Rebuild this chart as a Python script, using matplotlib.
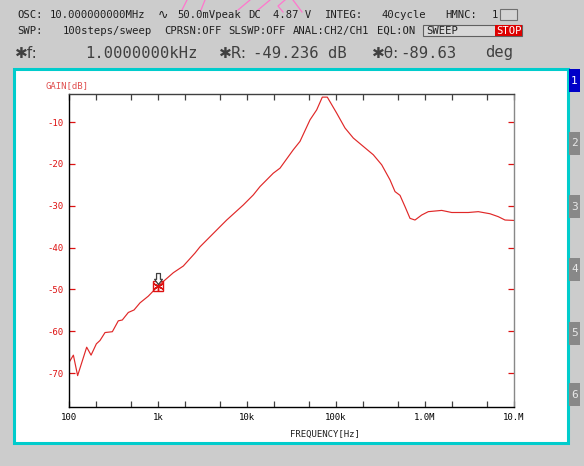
import numpy as np
import matplotlib
matplotlib.use("Agg")
import matplotlib.pyplot as plt
from matplotlib.patches import Rectangle
from matplotlib.path import Path
from matplotlib.lines import Line2D

# measured gain curve (frequency in Hz, gain in dB)
freq_hz = [101, 112, 125, 158, 177, 203, 223, 254, 307, 358, 397, 464, 538, 628, 778,
           1000, 1486, 1924, 2604, 2965, 4973, 5914, 9088, 11770, 14000, 19750, 23490,
           33130, 39400, 51050, 60700, 70150, 79860, 101800, 126200, 156500, 202600,
           262500, 326200, 404400, 460300, 523800, 596300, 678600, 772000, 918300,
           1089000, 1540000, 1995000, 3066000, 3971000, 5375000, 6662000, 7924000, 10000000]
gain_db = [-67.3, -65.7, -70.6, -63.8, -65.7, -63.0, -62.2, -60.3, -60.1, -57.5, -57.3,
           -55.5, -54.9, -53.2, -51.6, -49.2, -46.0, -44.4, -41.3, -39.8, -35.0, -33.4,
           -29.8, -27.4, -25.4, -22.2, -21.0, -16.6, -14.6, -9.45, -7.06, -4.02, -4.02,
           -7.85, -11.4, -13.8, -15.8, -17.8, -20.2, -23.8, -26.6, -27.5, -30.2, -33.0,
           -33.4, -32.2, -31.4, -31.1, -31.6, -31.6, -31.4, -31.9, -32.6, -33.4, -33.5]

marker_f = 1000
marker_db = -49.236

x_major = [100, 1e3, 1e4, 1e5, 1e6, 1e7]
x_labels = ["100", "1k", "10k", "100k", "1.0M", "10.M"]
x_minor = [m * d for d in [100, 1e3, 1e4, 1e5, 1e6] for m in (2, 5)]
y_ticks = [-10, -20, -30, -40, -50, -60, -70]

W, H = 584, 466
def fx(px):
    return px / W
def fy(py):
    return 1 - py / H

GRAY = "#cccccc"
RED = "#dd1111"
MONO = "DejaVu Sans Mono"

fig = plt.figure(figsize=(W / 100, H / 100), dpi=100)
fig.patch.set_facecolor(GRAY)

# white plot panel with cyan frame
fig.patches.append(Rectangle((fx(14), fy(443)), fx(568) - fx(14), fy(69) - fy(443),
                             transform=fig.transFigure, facecolor="white",
                             edgecolor="#00cccc", linewidth=2.2, zorder=-1))

# header text
hdr = dict(family=MONO, fontsize=7.6, color="#202020", va="center")
fig.text(fx(17), fy(15), "OSC:", **hdr)
fig.text(fx(50), fy(15), "10.000000000MHz", **hdr)
fig.text(fx(158), fy(15), "\u223f", family=["DejaVu Sans"], fontsize=9, color="#202020", va="center")
fig.text(fx(177), fy(15), "50.0mVpeak", **hdr)
fig.text(fx(248), fy(15), "DC", **hdr)
fig.text(fx(273), fy(15), "4.87 V", **hdr)
fig.text(fx(325), fy(15), "INTEG:", **hdr)
fig.text(fx(382), fy(15), "40cycle", **hdr)
fig.text(fx(445), fy(15), "HMNC:", **hdr)
fig.text(fx(492), fy(15), "1", **hdr)
fig.patches.append(Rectangle((fx(500), fy(20)), fx(517) - fx(500), fy(9) - fy(20),
                             transform=fig.transFigure, facecolor="#d4d4d4",
                             edgecolor="#707070", linewidth=0.8))

fig.text(fx(17), fy(31), "SWP:", **hdr)
fig.text(fx(63), fy(31), "100steps/sweep", **hdr)
fig.text(fx(164), fy(31), "CPRSN:OFF", **hdr)
fig.text(fx(228), fy(31), "SLSWP:OFF", **hdr)
fig.text(fx(293), fy(31), "ANAL:CH2/CH1", **hdr)
fig.text(fx(377), fy(31), "EQL:ON", **hdr)
fig.patches.append(Rectangle((fx(423), fy(36)), fx(522) - fx(423), fy(25) - fy(36),
                             transform=fig.transFigure, facecolor="#d8d8d8",
                             edgecolor="#606060", linewidth=0.8))
fig.text(fx(426), fy(31), "SWEEP", **hdr)
fig.patches.append(Rectangle((fx(495), fy(36)), fx(522) - fx(495), fy(25) - fy(36),
                             transform=fig.transFigure, facecolor="#dd0000",
                             edgecolor="none"))
fig.text(fx(496), fy(31), "STOP", family=MONO, fontsize=7.6, color="white", va="center")

big = dict(family=MONO, fontsize=11.2, color="#404040", va="center")
star = dict(family=["DejaVu Sans"], fontsize=11, color="#404040", va="center")
fig.text(fx(15), fy(53), "\u2731f:", **star)
fig.text(fx(85), fy(53), "1.0000000kHz", **big)
fig.text(fx(219), fy(53), "\u2731R:", **star)
fig.text(fx(253), fy(53), "-49.236 dB", **big)
fig.text(fx(372), fy(53), "\u2731\u03b8:", **star)
fig.text(fx(400), fy(53), "-89.63", **big)
fig.text(fx(485), fy(53), "deg", **big)

# pink streaks across the header
streaks = [[(187, 0), (182, 10)], [(205, 0), (201, 10)], [(250, 0), (238, 10)],
           [(270, 0), (258, 10)], [(285, 0), (278, 6), (283, 12)], [(293, 0), (302, 12)]]
for s in streaks:
    xs = [fx(p[0]) for p in s]
    ys = [fy(p[1]) for p in s]
    fig.lines.append(Line2D(xs, ys, transform=fig.transFigure, color="#ff77cc", lw=0.9))

# side buttons
btn_y = [69, 132, 195, 258, 322, 383]
for i, by in enumerate(btn_y):
    fc = "#0000c8" if i == 0 else "#888888"
    tc = "white" if i == 0 else "#e8e8e8"
    fig.patches.append(Rectangle((fx(569), fy(by + 23)), fx(580) - fx(569), fy(by) - fy(by + 23),
                                 transform=fig.transFigure, facecolor=fc, edgecolor="none"))
    fig.text(fx(574.5), fy(by + 11.5), str(i + 1), family=MONO, fontsize=8,
             color=tc, ha="center", va="center")

# plot axes
ax = fig.add_axes([fx(69), fy(407), fx(514) - fx(69), fy(93.7) - fy(407)])
ax.set_zorder(2)
ax.set_facecolor("white")
ax.plot(freq_hz, gain_db, color="#e02828", lw=0.85)

ax.plot([marker_f], [marker_db], marker="s", ms=7, mfc="none", mec=RED, mew=1.0, ls="none")
ax.plot([marker_f], [marker_db], marker=(6, 2, 0), ms=7.5, mec=RED, mew=1.0, ls="none")
arrow = Path([(-0.15, 1.0), (0.15, 1.0), (0.15, 0.55), (0.3, 0.55), (0.0, 0.15),
              (-0.3, 0.55), (-0.15, 0.55), (-0.15, 1.0)], closed=True)
ax.plot([marker_f], [marker_db], marker=arrow, ms=18.7, mfc="white", mec="#404040",
        mew=0.9, ls="none")

ax.set_xscale("log")
ax.set_xlim(100, 1e7)
ax.set_ylim(-78.1, -3.2)
ax.set_xticks(x_major)
ax.set_xticklabels(x_labels)
ax.set_xticks(x_minor, minor=True)
ax.set_xticklabels([], minor=True)
ax.set_yticks(y_ticks)
ax.set_yticklabels([str(v) for v in y_ticks])

ax.tick_params(axis="x", which="both", direction="in", top=True, length=4, width=0.9,
               color="#404040", labelsize=6.5, pad=4)
for lab in ax.get_xticklabels():
    lab.set_family(MONO)
ax.tick_params(axis="y", which="both", direction="in", right=True, length=4.5, width=0.9,
               color=RED, labelcolor=RED, labelsize=6.5, pad=4)
for lab in ax.get_yticklabels():
    lab.set_family(MONO)

ax.spines["left"].set_color("black")
ax.spines["bottom"].set_color("black")
ax.spines["top"].set_color("#404040")
ax.spines["right"].set_color("#888888")
for sp in ax.spines.values():
    sp.set_linewidth(1.0)

fig.text(fx(46), fy(86), "GAIN[dB]", family=MONO, fontsize=6.5, color="#e05050", va="center")
fig.text(fx(325), fy(434), "FREQUENCY[Hz]", family=MONO, fontsize=6.5, color="#202020",
         ha="center", va="center")

fig.savefig("out.png", dpi=100, facecolor=fig.get_facecolor())
